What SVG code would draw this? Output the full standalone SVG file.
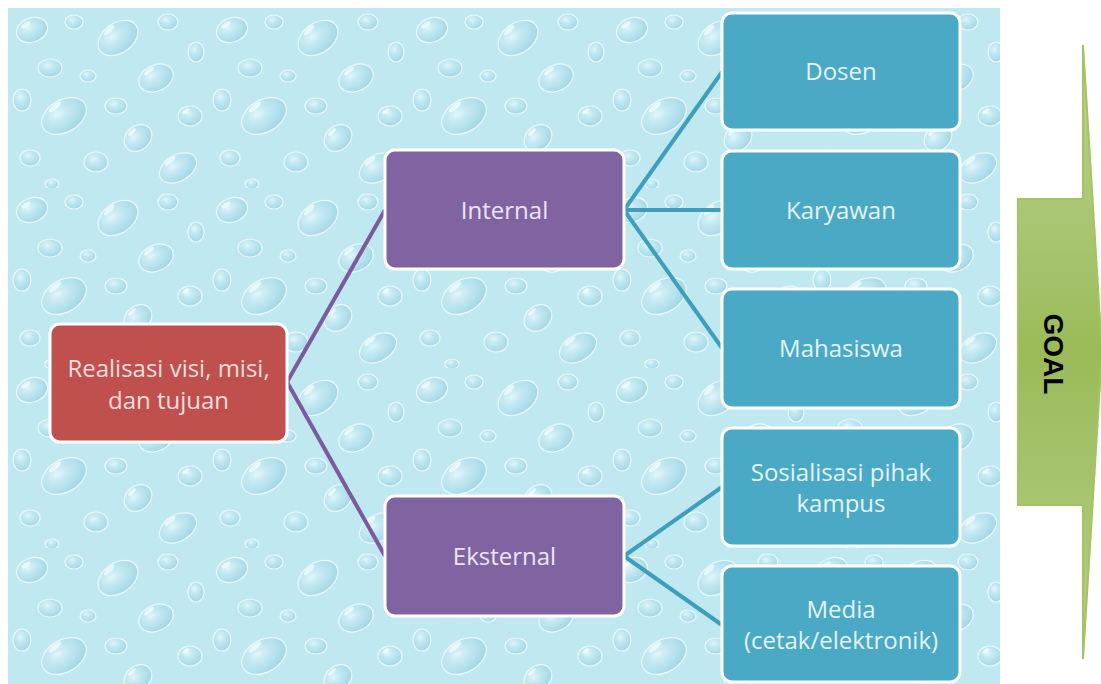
<svg xmlns="http://www.w3.org/2000/svg" width="1101" height="684" viewBox="0 0 1101 684">
  <defs>
    <radialGradient id="drop" cx="0.4" cy="0.35" r="0.75">
      <stop offset="0" stop-color="#e8f8fc" stop-opacity="0.85"/>
      <stop offset="0.5" stop-color="#b2e0ec" stop-opacity="0.55"/>
      <stop offset="1" stop-color="#86c6da" stop-opacity="0.65"/>
    </radialGradient>
    <pattern id="water" x="8" y="8" width="200" height="180" patternUnits="userSpaceOnUse">
      <rect width="200" height="180" fill="#c0e8f1"/>
      <g fill="url(#drop)" stroke="#ecf9fc" stroke-width="1.2">
        <ellipse cx="24" cy="22" rx="16" ry="12" transform="rotate(-20 24 22)"/>
        <ellipse cx="66" cy="14" rx="9" ry="7"/>
        <ellipse cx="110" cy="30" rx="22" ry="15" transform="rotate(-35 110 30)"/>
        <ellipse cx="160" cy="14" rx="10" ry="8"/>
        <ellipse cx="188" cy="44" rx="8" ry="10"/>
        <ellipse cx="42" cy="60" rx="12" ry="9"/>
        <ellipse cx="80" cy="68" rx="8" ry="6"/>
        <ellipse cx="148" cy="70" rx="18" ry="13" transform="rotate(-25 148 70)"/>
        <ellipse cx="14" cy="92" rx="9" ry="11"/>
        <ellipse cx="56" cy="108" rx="24" ry="16" transform="rotate(-30 56 108)"/>
        <ellipse cx="108" cy="98" rx="11" ry="8"/>
        <ellipse cx="182" cy="108" rx="12" ry="10"/>
        <ellipse cx="130" cy="130" rx="15" ry="12" transform="rotate(-40 130 130)"/>
        <ellipse cx="22" cy="150" rx="10" ry="8"/>
        <ellipse cx="88" cy="154" rx="12" ry="10"/>
        <ellipse cx="170" cy="160" rx="20" ry="13" transform="rotate(-30 170 160)"/>
        <ellipse cx="44" cy="176" rx="7" ry="5"/>
      </g>
      <g fill="#f5fcfe" opacity="0.75">
        <ellipse cx="18" cy="17" rx="5" ry="2" transform="rotate(-35 18 17)"/>
        <ellipse cx="101" cy="22" rx="7" ry="2.4" transform="rotate(-45 101 22)"/>
        <ellipse cx="141" cy="63" rx="6" ry="2.2" transform="rotate(-40 141 63)"/>
        <ellipse cx="47" cy="99" rx="8" ry="2.6" transform="rotate(-40 47 99)"/>
        <ellipse cx="124" cy="124" rx="5" ry="2" transform="rotate(-45 124 124)"/>
        <ellipse cx="162" cy="153" rx="7" ry="2.3" transform="rotate(-40 162 153)"/>
        <ellipse cx="178" cy="103" rx="4" ry="1.8" transform="rotate(-40 178 103)"/>
      </g>
    </pattern>
    <linearGradient id="goalFill" x1="0" y1="0" x2="0" y2="1">
      <stop offset="0" stop-color="#bcd495"/>
      <stop offset="0.5" stop-color="#9bbb59"/>
      <stop offset="1" stop-color="#b5cf88"/>
    </linearGradient>
    <style>
      .node { stroke: #ffffff; stroke-width: 3; }
      .red { fill: #c0504d; }
      .purple { fill: #8064a2; }
      .teal { fill: #4aa9c5; }
      .lbl { font-family: "Open Sans", "Liberation Sans", sans-serif; font-size: 24px; text-anchor: middle; dominant-baseline: central; }
      .lred { fill: #f6dedd; }
      .lpur { fill: #ece4f5; }
      .ltea { fill: #e3f3f8; }
      .cp { stroke: #7b5b9c; stroke-width: 4; fill: none; }
      .ct { stroke: #3d9fbb; stroke-width: 4; fill: none; }
    </style>
  </defs>

  <rect x="0" y="0" width="1101" height="684" fill="#ffffff"/>
  <rect id="background" x="8" y="8" width="992" height="676" fill="url(#water)"/>

  <g id="connectors">
    <line class="cp" x1="287" y1="382" x2="385" y2="210"/>
    <line class="cp" x1="287" y1="382" x2="385" y2="556"/>
    <line class="ct" x1="624" y1="210" x2="722" y2="72"/>
    <line class="ct" x1="624" y1="210" x2="722" y2="210"/>
    <line class="ct" x1="624" y1="210" x2="722" y2="348"/>
    <line class="ct" x1="624" y1="556" x2="722" y2="487"/>
    <line class="ct" x1="624" y1="556" x2="722" y2="625"/>
  </g>

  <g id="node-root">
    <rect class="node red" x="50" y="324" width="237" height="118" rx="10"/>
    <text class="lbl lred" x="168.5" y="367">Realisasi visi, misi,</text>
    <text class="lbl lred" x="168.5" y="399">dan tujuan</text>
  </g>
  <g id="node-internal">
    <rect class="node purple" x="385" y="150" width="239" height="119" rx="10"/>
    <text class="lbl lpur" x="504.5" y="209">Internal</text>
  </g>
  <g id="node-eksternal">
    <rect class="node purple" x="385" y="496" width="239" height="120" rx="10"/>
    <text class="lbl lpur" x="504.5" y="555">Eksternal</text>
  </g>
  <g id="node-dosen">
    <rect class="node teal" x="722" y="13" width="238" height="117" rx="10"/>
    <text class="lbl ltea" x="841" y="70">Dosen</text>
  </g>
  <g id="node-karyawan">
    <rect class="node teal" x="722" y="151" width="238" height="118" rx="10"/>
    <text class="lbl ltea" x="841" y="209">Karyawan</text>
  </g>
  <g id="node-mahasiswa">
    <rect class="node teal" x="722" y="289" width="238" height="119" rx="10"/>
    <text class="lbl ltea" x="841" y="347">Mahasiswa</text>
  </g>
  <g id="node-sosialisasi">
    <rect class="node teal" x="722" y="428" width="238" height="118" rx="10"/>
    <text class="lbl ltea" x="841" y="471">Sosialisasi pihak</text>
    <text class="lbl ltea" x="841" y="502">kampus</text>
  </g>
  <g id="node-media">
    <rect class="node teal" x="722" y="566" width="238" height="116" rx="10"/>
    <text class="lbl ltea" x="841" y="608">Media</text>
    <text class="lbl ltea" x="841" y="639">(cetak/elektronik)</text>
  </g>

  <g id="node-goal">
    <polygon points="1018,199 1083,199 1083,45 1102,352 1083,659 1083,505 1018,505" fill="url(#goalFill)" stroke="#a4c364" stroke-width="2"/>
    <text x="1053" y="354" transform="rotate(90 1053 354)" font-family="Liberation Sans, Arial, sans-serif" font-weight="bold" font-size="28" fill="#000000" text-anchor="middle" dominant-baseline="central">GOAL</text>
  </g>
</svg>
